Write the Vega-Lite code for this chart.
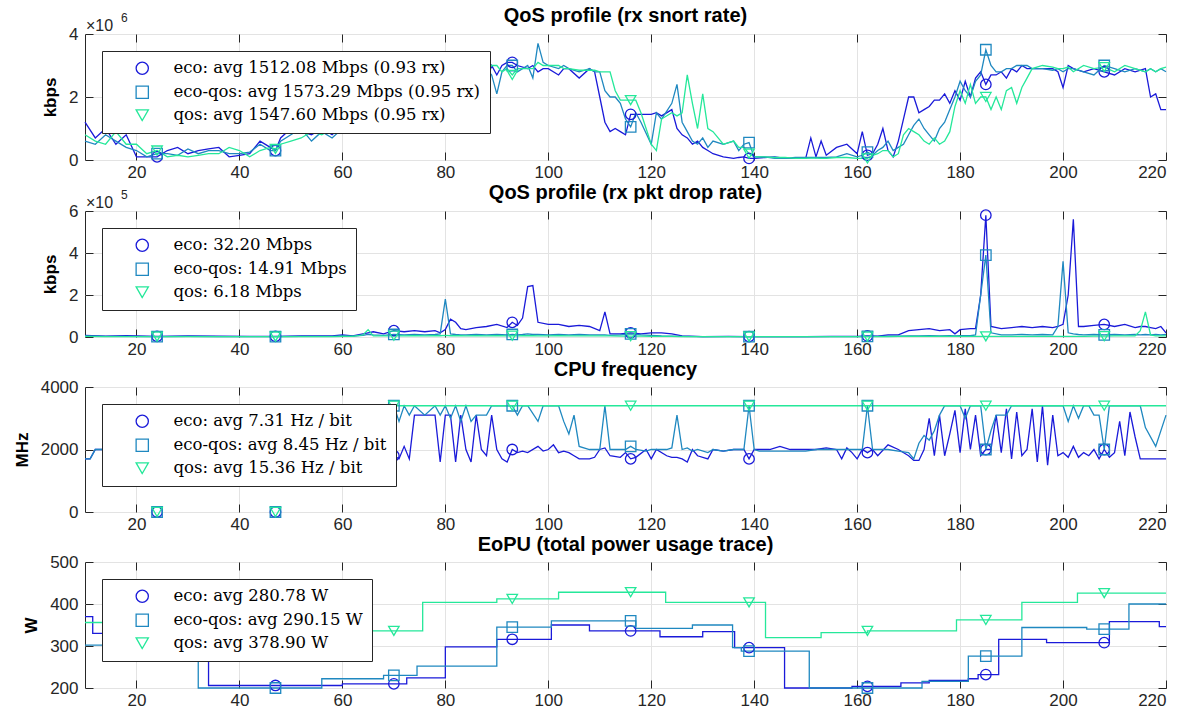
{
  "$schema": "https://vega.github.io/schema/vega-lite/v6.json",
  "background": "white",
  "padding": {"left": 12, "top": 5, "right": 5, "bottom": 2},
  "spacing": 1,
  "config": {
    "view": {"stroke": "#262626", "strokeWidth": 1},
    "font": "Liberation Sans",
    "axis": {
      "labelFont": "Liberation Sans", "labelFontSize": 17, "labelColor": "#262626",
      "domain": false, "grid": true, "gridColor": "#e3e3e3", "gridWidth": 1,
      "ticks": true, "tickColor": "#262626", "tickSize": -8, "tickWidth": 1,
      "titleFont": "Liberation Sans", "titleFontSize": 17, "titleFontWeight": "bold", "titleColor": "#000000", "titlePadding": 9
    },
    "axisX": {"labelPadding": 12},
    "axisY": {"labelPadding": 15},
    "title": {"font": "Liberation Sans", "fontSize": 20, "fontWeight": "bold", "color": "#000000"},
    "legend": {
      "orient": "top-left", "offset": 17, "title": null,
      "strokeColor": "#262626", "fillColor": "white", "padding": 9, "rowPadding": 6,
      "symbolOffset": 23, "labelOffset": 23, "labelFont": "DejaVu Serif", "labelFontSize": 16.5,
      "labelColor": "#000000", "labelLimit": 500, "symbolSize": 150, "symbolStrokeWidth": 1.3
    }
  },
  "datasets": {
    "p1": [
      {"x":10,"a":1.2,"b":0.6,"c":0.8},{"x":12,"a":0.7,"b":0.5,"c":0.6},{"x":14,"a":1.0,"b":0.8,"c":0.5},{"x":16,"a":0.5,"b":0.6,"c":0.9},
      {"x":18,"a":0.8,"b":0.4,"c":0.5},{"x":20,"a":0.1,"b":0.3,"c":0.5},{"x":22,"a":0.1,"b":0.1,"c":0.2},{"x":24,"a":0.1,"b":0.2,"c":0.3},
      {"x":26,"a":0.3,"b":0.2,"c":0.1},{"x":28,"a":0.4,"b":0.15,"c":0.15},{"x":30,"a":0.2,"b":0.35,"c":0.1},{"x":32,"a":0.3,"b":0.2,"c":0.15},
      {"x":34,"a":0.35,"b":0.3,"c":0.2},{"x":36,"a":0.4,"b":0.3,"c":0.2},{"x":38,"a":0.1,"b":0.2,"c":0.4},{"x":40,"a":0.15,"b":0.2,"c":0.3},
      {"x":42,"a":0.2,"b":0.25,"c":0.1},{"x":44,"a":0.6,"b":0.5,"c":0.3},{"x":46,"a":0.4,"b":0.3,"c":0.4},{"x":47,"a":0.3,"b":0.3,"c":0.35},
      {"x":48,"a":0.7,"b":0.6,"c":0.5},{"x":50,"a":1.0,"b":0.8,"c":0.6},{"x":52,"a":0.9,"b":1.0,"c":0.7},{"x":54,"a":0.8,"b":0.6,"c":0.9},
      {"x":56,"a":1.0,"b":0.9,"c":0.8},{"x":58,"a":0.8,"b":0.7,"c":1.0},{"x":60,"a":1.1,"b":1.0,"c":0.9},{"x":62,"a":1.3,"b":1.2,"c":1.0},
      {"x":64,"a":1.6,"b":1.5,"c":1.3},{"x":66,"a":1.9,"b":1.8,"c":1.6},{"x":68,"a":2.1,"b":2.0,"c":1.9},{"x":70,"a":2.3,"b":2.2,"c":2.1},
      {"x":72,"a":2.5,"b":2.4,"c":2.3},{"x":74,"a":2.6,"b":2.6,"c":2.5},{"x":76,"a":2.8,"b":2.7,"c":2.6},{"x":78,"a":2.9,"b":2.8,"c":2.8},
      {"x":80,"a":2.9,"b":2.9,"c":2.9},{"x":82,"a":3.0,"b":2.9,"c":2.8},{"x":84,"a":2.9,"b":3.0,"c":3.0},{"x":86,"a":3.0,"b":2.8,"c":2.9},
      {"x":88,"a":2.5,"b":2.9,"c":2.8},{"x":89,"a":3.0,"b":2.7,"c":3.0},{"x":90,"a":2.7,"b":2.1,"c":3.0},{"x":91,"a":3.0,"b":2.8,"c":2.8},
      {"x":92,"a":3.1,"b":3.0,"c":2.9},{"x":93,"a":3.1,"b":3.0,"c":2.7},{"x":94,"a":3.0,"b":2.8,"c":2.9},{"x":96,"a":2.9,"b":3.0,"c":2.9},
      {"x":97,"a":3.0,"b":2.6,"c":2.9},{"x":98,"a":2.8,"b":3.7,"c":3.1},{"x":99,"a":2.9,"b":3.1,"c":3.0},{"x":100,"a":2.9,"b":3.0,"c":3.0},
      {"x":102,"a":2.7,"b":2.9,"c":3.0},{"x":103,"a":2.9,"b":3.0,"c":2.9},{"x":104,"a":2.9,"b":2.9,"c":2.9},{"x":106,"a":2.6,"b":2.8,"c":2.85},
      {"x":108,"a":2.9,"b":2.9,"c":2.85},{"x":109,"a":2.8,"b":2.8,"c":2.85},{"x":110,"a":2.0,"b":2.8,"c":2.8},{"x":111,"a":1.2,"b":2.2,"c":2.8},
      {"x":112,"a":0.9,"b":2.0,"c":2.8},{"x":113,"a":1.0,"b":2.0,"c":2.2},{"x":114,"a":0.9,"b":1.8,"c":1.9},{"x":115,"a":0.8,"b":1.3,"c":1.9},
      {"x":116,"a":1.45,"b":1.05,"c":1.9},{"x":117,"a":1.45,"b":1.5,"c":1.9},{"x":118,"a":1.45,"b":1.2,"c":1.5},{"x":120,"a":1.45,"b":0.5,"c":0.5},
      {"x":121,"a":1.5,"b":1.5,"c":0.3},{"x":122,"a":1.4,"b":1.3,"c":1.3},{"x":124,"a":1.6,"b":1.8,"c":1.5},{"x":125,"a":1.0,"b":2.4,"c":1.4},
      {"x":126,"a":0.8,"b":1.2,"c":1.5},{"x":127,"a":0.7,"b":0.9,"c":2.7},{"x":128,"a":0.5,"b":0.6,"c":1.8},{"x":129,"a":0.6,"b":0.5,"c":1.0},
      {"x":130,"a":0.4,"b":0.7,"c":2.1},{"x":131,"a":0.3,"b":0.4,"c":1.0},{"x":132,"a":0.2,"b":0.6,"c":0.9},{"x":134,"a":0.1,"b":0.5,"c":0.5},
      {"x":136,"a":0.05,"b":0.6,"c":0.6},{"x":137,"a":0.08,"b":0.3,"c":0.4},{"x":138,"a":0.1,"b":0.5,"c":0.4},{"x":139,"a":0.05,"b":0.55,"c":0.2},
      {"x":140,"a":0.05,"b":0.1,"c":0.1},{"x":142,"a":0.08,"b":0.1,"c":0.1},{"x":144,"a":0.1,"b":0.05,"c":0.08},{"x":146,"a":0.05,"b":0.05,"c":0.08},
      {"x":148,"a":0.05,"b":0.08,"c":0.05},{"x":150,"a":0.05,"b":0.08,"c":0.05},{"x":151,"a":0.7,"b":0.08,"c":0.06},{"x":152,"a":0.1,"b":0.08,"c":0.06},
      {"x":153,"a":0.6,"b":0.08,"c":0.05},{"x":154,"a":0.15,"b":0.08,"c":0.05},{"x":156,"a":0.4,"b":0.1,"c":0.08},{"x":158,"a":0.5,"b":0.2,"c":0.08},
      {"x":160,"a":0.2,"b":0.1,"c":0.05},{"x":161,"a":0.9,"b":0.15,"c":0.05},{"x":162,"a":0.15,"b":0.25,"c":0.05},{"x":163,"a":0.2,"b":0.15,"c":0.15},
      {"x":164,"a":0.5,"b":0.3,"c":0.2},{"x":165,"a":1.0,"b":0.4,"c":0.3},{"x":166,"a":0.3,"b":0.6,"c":0.3},{"x":167,"a":0.1,"b":0.3,"c":0.1},
      {"x":168,"a":0.6,"b":0.4,"c":0.2},{"x":169,"a":1.3,"b":0.5,"c":0.8},{"x":170,"a":2.0,"b":0.8,"c":1.0},{"x":171,"a":2.0,"b":1.1,"c":0.9},
      {"x":172,"a":1.5,"b":1.3,"c":0.8},{"x":173,"a":1.6,"b":1.0,"c":0.6},{"x":174,"a":1.7,"b":0.8,"c":0.5},{"x":175,"a":1.9,"b":0.6,"c":0.7},
      {"x":176,"a":1.9,"b":1.0,"c":0.5},{"x":177,"a":2.1,"b":1.2,"c":0.6},{"x":178,"a":1.8,"b":1.6,"c":0.9},{"x":179,"a":2.2,"b":2.0,"c":1.7},
      {"x":180,"a":1.9,"b":2.5,"c":2.2},{"x":181,"a":2.5,"b":2.2,"c":1.8},{"x":182,"a":2.0,"b":2.0,"c":2.4},{"x":183,"a":2.6,"b":2.5,"c":1.8},
      {"x":184,"a":2.8,"b":2.7,"c":2.0},{"x":185,"a":2.4,"b":3.5,"c":2.0},{"x":186,"a":2.7,"b":3.0,"c":1.6},{"x":187,"a":2.7,"b":2.8,"c":2.0},
      {"x":188,"a":2.8,"b":2.8,"c":1.6},{"x":189,"a":2.6,"b":2.9,"c":2.2},{"x":190,"a":2.9,"b":2.9,"c":2.3},{"x":191,"a":2.8,"b":3.0,"c":1.8},
      {"x":192,"a":3.0,"b":3.0,"c":2.3},{"x":193,"a":2.9,"b":3.0,"c":2.6},{"x":194,"a":2.9,"b":2.9,"c":2.9},{"x":196,"a":2.9,"b":2.9,"c":3.0},
      {"x":198,"a":2.9,"b":2.85,"c":2.95},{"x":199,"a":2.8,"b":2.9,"c":2.9},{"x":200,"a":2.3,"b":2.8,"c":2.9},{"x":201,"a":3.0,"b":2.9,"c":2.95},
      {"x":202,"a":2.9,"b":2.9,"c":2.8},{"x":204,"a":2.8,"b":2.8,"c":3.0},{"x":206,"a":2.9,"b":2.7,"c":2.9},{"x":208,"a":2.8,"b":3.0,"c":2.95},
      {"x":210,"a":2.7,"b":2.9,"c":2.8},{"x":212,"a":2.9,"b":2.8,"c":3.0},{"x":214,"a":2.8,"b":2.9,"c":2.9},{"x":216,"a":2.9,"b":2.8,"c":2.8},
      {"x":217,"a":2.0,"b":2.9,"c":2.9},{"x":218,"a":2.1,"b":2.8,"c":2.8},{"x":219,"a":1.6,"b":2.9,"c":2.9},{"x":220,"a":1.6,"b":2.8,"c":2.95}
    ],
    "p2": [
      {"x":10,"a":0.08,"b":0.05,"c":0.03},{"x":14,"a":0.04,"b":0.03,"c":0.02},{"x":18,"a":0.06,"b":0.03,"c":0.02},{"x":24,"a":0.03,"b":0.02,"c":0.02},
      {"x":30,"a":0.05,"b":0.03,"c":0.02},{"x":36,"a":0.04,"b":0.02,"c":0.02},{"x":42,"a":0.03,"b":0.02,"c":0.02},{"x":47,"a":0.03,"b":0.02,"c":0.02},
      {"x":52,"a":0.05,"b":0.03,"c":0.02},{"x":58,"a":0.05,"b":0.03,"c":0.02},{"x":60,"a":0.1,"b":0.05,"c":0.03},{"x":62,"a":0.05,"b":0.04,"c":0.03},
      {"x":64,"a":0.15,"b":0.08,"c":0.1},{"x":65,"a":0.2,"b":0.12,"c":0.35},{"x":66,"a":0.25,"b":0.1,"c":0.05},{"x":68,"a":0.15,"b":0.08,"c":0.05},
      {"x":70,"a":0.3,"b":0.12,"c":0.06},{"x":72,"a":0.25,"b":0.1,"c":0.05},{"x":74,"a":0.3,"b":0.12,"c":0.06},{"x":76,"a":0.25,"b":0.1,"c":0.05},
      {"x":78,"a":0.3,"b":0.12,"c":0.06},{"x":79,"a":0.2,"b":0.15,"c":0.06},{"x":80,"a":0.35,"b":1.8,"c":0.08},{"x":81,"a":0.85,"b":0.15,"c":0.06},
      {"x":82,"a":0.7,"b":0.12,"c":0.06},{"x":83,"a":0.4,"b":0.1,"c":0.06},{"x":84,"a":0.35,"b":0.1,"c":0.05},{"x":86,"a":0.45,"b":0.12,"c":0.06},
      {"x":88,"a":0.5,"b":0.1,"c":0.05},{"x":90,"a":0.6,"b":0.12,"c":0.06},{"x":92,"a":0.45,"b":0.1,"c":0.05},{"x":93,"a":0.7,"b":0.12,"c":0.06},
      {"x":94,"a":0.55,"b":0.1,"c":0.05},{"x":95,"a":0.9,"b":0.12,"c":0.06},{"x":96,"a":2.4,"b":0.15,"c":0.06},{"x":97,"a":2.45,"b":0.12,"c":0.06},
      {"x":98,"a":0.7,"b":0.12,"c":0.05},{"x":100,"a":0.6,"b":0.1,"c":0.05},{"x":102,"a":0.6,"b":0.12,"c":0.06},{"x":104,"a":0.5,"b":0.1,"c":0.05},
      {"x":106,"a":0.55,"b":0.12,"c":0.05},{"x":108,"a":0.5,"b":0.1,"c":0.05},{"x":110,"a":0.3,"b":0.1,"c":0.05},{"x":111,"a":1.2,"b":0.1,"c":0.05},
      {"x":112,"a":0.15,"b":0.08,"c":0.05},{"x":114,"a":0.15,"b":0.1,"c":0.04},{"x":116,"a":0.2,"b":0.15,"c":0.04},{"x":118,"a":0.15,"b":0.1,"c":0.04},
      {"x":120,"a":0.2,"b":0.08,"c":0.03},{"x":122,"a":0.2,"b":0.05,"c":0.03},{"x":124,"a":0.15,"b":0.04,"c":0.03},{"x":126,"a":0.05,"b":0.03,"c":0.02},
      {"x":130,"a":0.02,"b":0.02,"c":0.02},{"x":135,"a":0.03,"b":0.02,"c":0.02},{"x":139,"a":0.02,"b":0.02,"c":0.02},{"x":145,"a":0.02,"b":0.02,"c":0.02},
      {"x":150,"a":0.02,"b":0.02,"c":0.02},{"x":155,"a":0.03,"b":0.02,"c":0.02},{"x":160,"a":0.03,"b":0.02,"c":0.02},{"x":162,"a":0.05,"b":0.03,"c":0.02},
      {"x":164,"a":0.04,"b":0.03,"c":0.02},{"x":166,"a":0.1,"b":0.04,"c":0.02},{"x":168,"a":0.1,"b":0.04,"c":0.03},{"x":170,"a":0.3,"b":0.05,"c":0.03},
      {"x":172,"a":0.35,"b":0.05,"c":0.03},{"x":174,"a":0.4,"b":0.06,"c":0.03},{"x":176,"a":0.3,"b":0.05,"c":0.03},{"x":178,"a":0.35,"b":0.06,"c":0.03},
      {"x":179,"a":0.15,"b":0.05,"c":0.03},{"x":180,"a":0.35,"b":0.06,"c":0.03},{"x":182,"a":0.4,"b":0.06,"c":0.03},{"x":183,"a":0.4,"b":0.1,"c":0.03},
      {"x":184,"a":2.0,"b":2.0,"c":0.03},{"x":185,"a":5.8,"b":3.9,"c":0.03},{"x":186,"a":0.5,"b":0.2,"c":0.03},{"x":188,"a":0.4,"b":0.1,"c":0.03},
      {"x":190,"a":0.45,"b":0.1,"c":0.03},{"x":192,"a":0.5,"b":0.12,"c":0.03},{"x":194,"a":0.45,"b":0.1,"c":0.03},{"x":196,"a":0.5,"b":0.12,"c":0.03},
      {"x":198,"a":0.45,"b":0.1,"c":0.03},{"x":199,"a":0.5,"b":0.5,"c":0.03},{"x":200,"a":0.6,"b":3.6,"c":0.03},{"x":201,"a":2.0,"b":0.2,"c":0.03},
      {"x":202,"a":5.6,"b":0.15,"c":0.03},{"x":203,"a":0.5,"b":0.12,"c":0.03},{"x":204,"a":0.5,"b":0.1,"c":0.03},{"x":206,"a":0.55,"b":0.12,"c":0.04},
      {"x":208,"a":0.6,"b":0.1,"c":0.04},{"x":210,"a":0.5,"b":0.12,"c":0.05},{"x":212,"a":0.6,"b":0.1,"c":0.05},{"x":214,"a":0.45,"b":0.12,"c":0.05},
      {"x":215,"a":0.5,"b":0.1,"c":0.3},{"x":216,"a":0.5,"b":0.12,"c":1.2},{"x":217,"a":0.45,"b":0.1,"c":0.1},{"x":218,"a":0.4,"b":0.12,"c":0.05},
      {"x":219,"a":0.5,"b":0.1,"c":0.05},{"x":220,"a":0.2,"b":0.12,"c":0.05}
    ],
    "p3": [
      {"x":10,"a":1700,"b":1700,"c":null},{"x":11,"a":1700,"b":1700,"c":null},{"x":12,"a":2000,"b":2000,"c":null},{"x":14,"a":2000,"b":2000,"c":null},
      {"x":16,"a":null,"b":null,"c":null},{"x":24,"a":0,"b":0,"c":0},{"x":26,"a":null,"b":null,"c":null},{"x":47,"a":0,"b":0,"c":0},
      {"x":49,"a":null,"b":null,"c":null},
      {"x":61,"a":2000,"b":3400,"c":3400},{"x":62,"a":2000,"b":3400,"c":3400},{"x":64,"a":1800,"b":3100,"c":3400},{"x":66,"a":2000,"b":3400,"c":3400},
      {"x":68,"a":1700,"b":2900,"c":3400},{"x":70,"a":1800,"b":3400,"c":3400},{"x":71,"a":1700,"b":2900,"c":3400},{"x":72,"a":2100,"b":3400,"c":3400},
      {"x":73,"a":1700,"b":3100,"c":3400},{"x":74,"a":3100,"b":3400,"c":3400},{"x":76,"a":3100,"b":3100,"c":3400},{"x":78,"a":3100,"b":3400,"c":3400},
      {"x":79,"a":1600,"b":3100,"c":3400},{"x":80,"a":3100,"b":3400,"c":3400},{"x":81,"a":3100,"b":3000,"c":3400},{"x":82,"a":1600,"b":3400,"c":3400},
      {"x":83,"a":3100,"b":2900,"c":3400},{"x":84,"a":2000,"b":3400,"c":3400},{"x":85,"a":1600,"b":2900,"c":3400},{"x":86,"a":3100,"b":3100,"c":3400},
      {"x":87,"a":2000,"b":3100,"c":3400},{"x":88,"a":1800,"b":3100,"c":3400},{"x":89,"a":3100,"b":3400,"c":3400},{"x":90,"a":2000,"b":3400,"c":3400},
      {"x":91,"a":1700,"b":3400,"c":3400},{"x":92,"a":1600,"b":3400,"c":3400},{"x":93,"a":2000,"b":3400,"c":3400},{"x":94,"a":1900,"b":3100,"c":3400},
      {"x":95,"a":1950,"b":3400,"c":3400},{"x":96,"a":1900,"b":3400,"c":3400},{"x":98,"a":2100,"b":2900,"c":3400},{"x":99,"a":1950,"b":3400,"c":3400},
      {"x":100,"a":2000,"b":3400,"c":3400},{"x":101,"a":2150,"b":3400,"c":3400},{"x":102,"a":1900,"b":3400,"c":3400},{"x":103,"a":1950,"b":2900,"c":3400},
      {"x":104,"a":1900,"b":2500,"c":3400},{"x":105,"a":1800,"b":3100,"c":3400},{"x":106,"a":1700,"b":2100,"c":3400},{"x":108,"a":1700,"b":2000,"c":3400},
      {"x":109,"a":1750,"b":2000,"c":3400},{"x":110,"a":2000,"b":2000,"c":3400},{"x":111,"a":2050,"b":3400,"c":3400},{"x":112,"a":1800,"b":2000,"c":3400},
      {"x":114,"a":1750,"b":2000,"c":3400},{"x":115,"a":1900,"b":2000,"c":3400},{"x":116,"a":1700,"b":2100,"c":3400},{"x":117,"a":1750,"b":2000,"c":3400},
      {"x":119,"a":2000,"b":1950,"c":3400},{"x":120,"a":1700,"b":2000,"c":3400},{"x":121,"a":2000,"b":2000,"c":3400},{"x":123,"a":1800,"b":2000,"c":3400},
      {"x":124,"a":1750,"b":2050,"c":3400},{"x":125,"a":1750,"b":3100,"c":3400},{"x":126,"a":1700,"b":2000,"c":3400},{"x":127,"a":1600,"b":2050,"c":3400},
      {"x":128,"a":2000,"b":1950,"c":3400},{"x":129,"a":1800,"b":2000,"c":3400},{"x":131,"a":1700,"b":1900,"c":3400},{"x":132,"a":2000,"b":2000,"c":3400},
      {"x":134,"a":1950,"b":1950,"c":3400},{"x":136,"a":2000,"b":2000,"c":3400},{"x":138,"a":2000,"b":2000,"c":3400},{"x":139,"a":1700,"b":3400,"c":3400},
      {"x":140,"a":2000,"b":2000,"c":3400},{"x":141,"a":2000,"b":1950,"c":3400},{"x":143,"a":2000,"b":1950,"c":3400},{"x":145,"a":2100,"b":1950,"c":3400},
      {"x":147,"a":2000,"b":1950,"c":3400},{"x":150,"a":2000,"b":1950,"c":3400},{"x":152,"a":2000,"b":2000,"c":3400},{"x":154,"a":2050,"b":2000,"c":3400},
      {"x":156,"a":2000,"b":2000,"c":3400},{"x":157,"a":1700,"b":2000,"c":3400},{"x":158,"a":2050,"b":2000,"c":3400},{"x":159,"a":1900,"b":2000,"c":3400},
      {"x":160,"a":1700,"b":2000,"c":3400},{"x":161,"a":2000,"b":2000,"c":3400},{"x":162,"a":1900,"b":3400,"c":3400},{"x":163,"a":2000,"b":2000,"c":3400},
      {"x":164,"a":1800,"b":2000,"c":3400},{"x":166,"a":2150,"b":2000,"c":3400},{"x":168,"a":2000,"b":1950,"c":3400},{"x":170,"a":1800,"b":1900,"c":3400},
      {"x":171,"a":1650,"b":1700,"c":3400},{"x":172,"a":1650,"b":2200,"c":3400},{"x":173,"a":2000,"b":2450,"c":3400},{"x":174,"a":3000,"b":2300,"c":3400},
      {"x":175,"a":1800,"b":2600,"c":3400},{"x":176,"a":3100,"b":3100,"c":3400},{"x":177,"a":1800,"b":3400,"c":3400},{"x":178,"a":2500,"b":3400,"c":3400},
      {"x":179,"a":3250,"b":3400,"c":3400},{"x":180,"a":1900,"b":3400,"c":3400},{"x":181,"a":3300,"b":3000,"c":3400},{"x":182,"a":2000,"b":3400,"c":3400},
      {"x":183,"a":3100,"b":3400,"c":3400},{"x":184,"a":1800,"b":3400,"c":3400},{"x":185,"a":2000,"b":2000,"c":3400},{"x":186,"a":2000,"b":2600,"c":3400},
      {"x":187,"a":3100,"b":3100,"c":3400},{"x":188,"a":1900,"b":3100,"c":3400},{"x":189,"a":3300,"b":3100,"c":3400},{"x":190,"a":1700,"b":3400,"c":3400},
      {"x":191,"a":3200,"b":3400,"c":3400},{"x":192,"a":1800,"b":3400,"c":3400},{"x":193,"a":2000,"b":3400,"c":3400},{"x":194,"a":3300,"b":3400,"c":3400},
      {"x":195,"a":1600,"b":3400,"c":3400},{"x":196,"a":3400,"b":3400,"c":3400},{"x":197,"a":1500,"b":3400,"c":3400},{"x":198,"a":3100,"b":3400,"c":3400},
      {"x":199,"a":1800,"b":3400,"c":3400},{"x":200,"a":1900,"b":3400,"c":3400},{"x":201,"a":1750,"b":2900,"c":3400},{"x":202,"a":2100,"b":3400,"c":3400},
      {"x":203,"a":1750,"b":3000,"c":3400},{"x":204,"a":1900,"b":3400,"c":3400},{"x":205,"a":1800,"b":3400,"c":3400},{"x":206,"a":2000,"b":3100,"c":3400},
      {"x":207,"a":1700,"b":3100,"c":3400},{"x":208,"a":2000,"b":2000,"c":3400},{"x":209,"a":1750,"b":3400,"c":3400},{"x":210,"a":1900,"b":3400,"c":3400},
      {"x":211,"a":2900,"b":3400,"c":3400},{"x":212,"a":1800,"b":3400,"c":3400},{"x":213,"a":3200,"b":3400,"c":3400},{"x":214,"a":2400,"b":3400,"c":3400},
      {"x":215,"a":1700,"b":3400,"c":3400},{"x":216,"a":1700,"b":2700,"c":3400},{"x":218,"a":1700,"b":2100,"c":3400},{"x":220,"a":1700,"b":3100,"c":3400}
    ],
    "p4": [
      {"x":10,"a":370,"b":302,"c":356},{"x":11.5,"a":330,"b":302,"c":356},{"x":20,"a":280,"b":302,"c":356},{"x":24,"a":280,"b":302,"c":356},
      {"x":32,"a":280,"b":200,"c":356},{"x":34,"a":206,"b":200,"c":356},{"x":40,"a":206,"b":200,"c":340},{"x":47,"a":206,"b":200,"c":340},
      {"x":56,"a":206,"b":222,"c":340},{"x":60,"a":210,"b":222,"c":336},{"x":68,"a":210,"b":230,"c":336},{"x":70,"a":210,"b":230,"c":336},
      {"x":72.5,"a":224,"b":230,"c":336},{"x":74.5,"a":224,"b":252,"c":336},{"x":75.6,"a":224,"b":252,"c":404},{"x":80,"a":298,"b":252,"c":404},
      {"x":90,"a":316,"b":345,"c":412},{"x":93,"a":316,"b":345,"c":412},{"x":100.6,"a":350,"b":360,"c":412},{"x":102,"a":350,"b":360,"c":428},
      {"x":108,"a":336,"b":360,"c":428},{"x":116,"a":336,"b":360,"c":428},{"x":117,"a":336,"b":342,"c":428},{"x":121.7,"a":322,"b":342,"c":428},
      {"x":122.8,"a":322,"b":342,"c":404},{"x":128,"a":322,"b":350,"c":404},{"x":130,"a":334,"b":350,"c":404},{"x":135.8,"a":334,"b":296,"c":404},
      {"x":136.2,"a":296,"b":296,"c":404},{"x":137.5,"a":296,"b":288,"c":404},{"x":139,"a":296,"b":288,"c":404},{"x":142.2,"a":296,"b":288,"c":320},
      {"x":145.9,"a":200,"b":288,"c":320},{"x":150.7,"a":200,"b":200,"c":320},{"x":153,"a":200,"b":200,"c":332},{"x":159,"a":204,"b":200,"c":332},
      {"x":162,"a":204,"b":200,"c":336},{"x":168.5,"a":212,"b":200,"c":336},{"x":172.6,"a":212,"b":216,"c":336},{"x":174,"a":218,"b":216,"c":336},
      {"x":179.3,"a":218,"b":216,"c":362},{"x":181.6,"a":222,"b":276,"c":362},{"x":183.5,"a":232,"b":276,"c":362},{"x":185,"a":232,"b":276,"c":362},
      {"x":187.5,"a":316,"b":276,"c":362},{"x":192,"a":316,"b":344,"c":404},{"x":196.8,"a":308,"b":344,"c":404},{"x":202.8,"a":308,"b":344,"c":426},
      {"x":204.6,"a":308,"b":340,"c":426},{"x":208,"a":308,"b":340,"c":426},{"x":209,"a":358,"b":340,"c":426},{"x":212.8,"a":358,"b":400,"c":426},
      {"x":218.7,"a":346,"b":400,"c":426},{"x":220,"a":346,"b":400,"c":426}
    ]
  },
  "vconcat": [
    {
      "title": {"text": "QoS profile (rx snort rate)", "offset": -14},
      "width": 1081, "height": 126,
      "resolve": {"axis": {"x": "independent", "y": "independent"}},
      "layer": [
        {
          "data": {"name": "p1"},
          "transform": [{"fold": ["a", "b", "c"], "as": ["s", "v"]}],
          "mark": {"type": "line", "strokeWidth": 1.3},
          "encoding": {
            "x": {"field": "x", "type": "quantitative", "scale": {"domain": [10, 220], "nice": false}, "axis": {"values": [20, 40, 60, 80, 100, 120, 140, 160, 180, 200, 220], "title": null}},
            "y": {"field": "v", "type": "quantitative", "scale": {"domain": [0, 4], "nice": false}, "axis": {"values": [0, 2, 4], "title": "kbps"}},
            "color": {"field": "s", "type": "nominal", "scale": {"domain": ["a", "b", "c"], "range": ["#1a1ad9", "#1f88c0", "#25e89a"]},
              "legend": {"labelExpr": "datum.label == 'a' ? 'eco: avg 1512.08 Mbps (0.93 rx)' : datum.label == 'b' ? 'eco-qos: avg 1573.29 Mbps (0.95 rx)' : 'qos: avg 1547.60 Mbps (0.95 rx)'"}}
          }
        },
        {
          "data": {"name": "p1"},
          "transform": [{"fold": ["a", "b", "c"], "as": ["s", "v"]}, {"filter": {"field": "x", "oneOf": [24, 47, 70, 93, 116, 139, 162, 185, 208]}}],
          "mark": {"type": "point", "filled": false, "size": 110, "strokeWidth": 1.3, "opacity": 1},
          "encoding": {
            "x": {"field": "x", "type": "quantitative", "axis": null},
            "y": {"field": "v", "type": "quantitative", "axis": null},
            "color": {"field": "s", "type": "nominal", "scale": {"domain": ["a", "b", "c"], "range": ["#1a1ad9", "#1f88c0", "#25e89a"]},
              "legend": {"labelExpr": "datum.label == 'a' ? 'eco: avg 1512.08 Mbps (0.93 rx)' : datum.label == 'b' ? 'eco-qos: avg 1573.29 Mbps (0.95 rx)' : 'qos: avg 1547.60 Mbps (0.95 rx)'"}},
            "shape": {"field": "s", "type": "nominal", "scale": {"domain": ["a", "b", "c"], "range": ["circle", "square", "triangle-down"]},
              "legend": {"labelExpr": "datum.label == 'a' ? 'eco: avg 1512.08 Mbps (0.93 rx)' : datum.label == 'b' ? 'eco-qos: avg 1573.29 Mbps (0.95 rx)' : 'qos: avg 1547.60 Mbps (0.95 rx)'"}}
          }
        },
        {
          "data": {"name": "p1"},
          "mark": {"type": "point", "opacity": 0},
          "encoding": {
            "x": {"field": "x", "type": "quantitative", "axis": {"orient": "top", "labels": false, "grid": false, "title": null, "values": [20, 40, 60, 80, 100, 120, 140, 160, 180, 200, 220]}},
            "y": {"field": "a", "type": "quantitative", "axis": {"orient": "right", "labels": false, "grid": false, "title": null, "values": [0, 2, 4]}}
          }
        },
        {
          "data": {"values": [{"t": "×10"}]},
          "mark": {"type": "text", "align": "left", "baseline": "alphabetic", "dx": 1, "dy": -3, "fontSize": 16, "font": "Liberation Sans", "color": "#262626"},
          "encoding": {"x": {"datum": 10, "axis": null}, "y": {"datum": 4, "axis": null}, "text": {"field": "t"}}
        },
        {
          "data": {"values": [{"t": "6"}]},
          "mark": {"type": "text", "align": "left", "baseline": "alphabetic", "dx": 36, "dy": -12, "fontSize": 12, "font": "Liberation Sans", "color": "#262626"},
          "encoding": {"x": {"datum": 10, "axis": null}, "y": {"datum": 4, "axis": null}, "text": {"field": "t"}}
        }
      ]
    },
    {
      "title": {"text": "QoS profile (rx pkt drop rate)", "offset": -14},
      "width": 1081, "height": 126,
      "resolve": {"axis": {"x": "independent", "y": "independent"}},
      "layer": [
        {
          "data": {"name": "p2"},
          "transform": [{"fold": ["a", "b", "c"], "as": ["s", "v"]}],
          "mark": {"type": "line", "strokeWidth": 1.3},
          "encoding": {
            "x": {"field": "x", "type": "quantitative", "scale": {"domain": [10, 220], "nice": false}, "axis": {"values": [20, 40, 60, 80, 100, 120, 140, 160, 180, 200, 220], "title": null}},
            "y": {"field": "v", "type": "quantitative", "scale": {"domain": [0, 6], "nice": false}, "axis": {"values": [0, 2, 4, 6], "title": "kbps"}},
            "color": {"field": "s", "type": "nominal", "scale": {"domain": ["a", "b", "c"], "range": ["#1a1ad9", "#1f88c0", "#25e89a"]},
              "legend": {"labelExpr": "datum.label == 'a' ? 'eco: 32.20 Mbps' : datum.label == 'b' ? 'eco-qos: 14.91 Mbps' : 'qos: 6.18 Mbps'"}}
          }
        },
        {
          "data": {"name": "p2"},
          "transform": [{"fold": ["a", "b", "c"], "as": ["s", "v"]}, {"filter": {"field": "x", "oneOf": [24, 47, 70, 93, 116, 139, 162, 185, 208]}}],
          "mark": {"type": "point", "filled": false, "size": 110, "strokeWidth": 1.3, "opacity": 1},
          "encoding": {
            "x": {"field": "x", "type": "quantitative", "axis": null},
            "y": {"field": "v", "type": "quantitative", "axis": null},
            "color": {"field": "s", "type": "nominal", "scale": {"domain": ["a", "b", "c"], "range": ["#1a1ad9", "#1f88c0", "#25e89a"]},
              "legend": {"labelExpr": "datum.label == 'a' ? 'eco: 32.20 Mbps' : datum.label == 'b' ? 'eco-qos: 14.91 Mbps' : 'qos: 6.18 Mbps'"}},
            "shape": {"field": "s", "type": "nominal", "scale": {"domain": ["a", "b", "c"], "range": ["circle", "square", "triangle-down"]},
              "legend": {"labelExpr": "datum.label == 'a' ? 'eco: 32.20 Mbps' : datum.label == 'b' ? 'eco-qos: 14.91 Mbps' : 'qos: 6.18 Mbps'"}}
          }
        },
        {
          "data": {"name": "p2"},
          "mark": {"type": "point", "opacity": 0},
          "encoding": {
            "x": {"field": "x", "type": "quantitative", "axis": {"orient": "top", "labels": false, "grid": false, "title": null, "values": [20, 40, 60, 80, 100, 120, 140, 160, 180, 200, 220]}},
            "y": {"field": "a", "type": "quantitative", "axis": {"orient": "right", "labels": false, "grid": false, "title": null, "values": [0, 2, 4, 6]}}
          }
        },
        {
          "data": {"values": [{"t": "×10"}]},
          "mark": {"type": "text", "align": "left", "baseline": "alphabetic", "dx": 1, "dy": -3, "fontSize": 16, "font": "Liberation Sans", "color": "#262626"},
          "encoding": {"x": {"datum": 10, "axis": null}, "y": {"datum": 6, "axis": null}, "text": {"field": "t"}}
        },
        {
          "data": {"values": [{"t": "5"}]},
          "mark": {"type": "text", "align": "left", "baseline": "alphabetic", "dx": 36, "dy": -12, "fontSize": 12, "font": "Liberation Sans", "color": "#262626"},
          "encoding": {"x": {"datum": 10, "axis": null}, "y": {"datum": 6, "axis": null}, "text": {"field": "t"}}
        }
      ]
    },
    {
      "title": {"text": "CPU frequency", "offset": -2},
      "width": 1081, "height": 125,
      "resolve": {"axis": {"x": "independent", "y": "independent"}},
      "layer": [
        {
          "data": {"name": "p3"},
          "transform": [{"fold": ["a", "b", "c"], "as": ["s", "v"]}],
          "mark": {"type": "line", "strokeWidth": 1.3, "invalid": "break-paths-show-domains"},
          "encoding": {
            "x": {"field": "x", "type": "quantitative", "scale": {"domain": [10, 220], "nice": false}, "axis": {"values": [20, 40, 60, 80, 100, 120, 140, 160, 180, 200, 220], "title": null}},
            "y": {"field": "v", "type": "quantitative", "scale": {"domain": [0, 4000], "nice": false}, "axis": {"values": [0, 2000, 4000], "title": "MHz", "format": "d"}},
            "color": {"field": "s", "type": "nominal", "scale": {"domain": ["a", "b", "c"], "range": ["#1a1ad9", "#1f88c0", "#25e89a"]},
              "legend": {"labelExpr": "datum.label == 'a' ? 'eco: avg 7.31 Hz / bit' : datum.label == 'b' ? 'eco-qos: avg 8.45 Hz / bit' : 'qos: avg 15.36 Hz / bit'"}}
          }
        },
        {
          "data": {"name": "p3"},
          "transform": [{"fold": ["a", "b", "c"], "as": ["s", "v"]}, {"filter": {"field": "x", "oneOf": [24, 47, 70, 93, 116, 139, 162, 185, 208]}}],
          "mark": {"type": "point", "filled": false, "size": 110, "strokeWidth": 1.3, "opacity": 1},
          "encoding": {
            "x": {"field": "x", "type": "quantitative", "axis": null},
            "y": {"field": "v", "type": "quantitative", "axis": null},
            "color": {"field": "s", "type": "nominal", "scale": {"domain": ["a", "b", "c"], "range": ["#1a1ad9", "#1f88c0", "#25e89a"]},
              "legend": {"labelExpr": "datum.label == 'a' ? 'eco: avg 7.31 Hz / bit' : datum.label == 'b' ? 'eco-qos: avg 8.45 Hz / bit' : 'qos: avg 15.36 Hz / bit'"}},
            "shape": {"field": "s", "type": "nominal", "scale": {"domain": ["a", "b", "c"], "range": ["circle", "square", "triangle-down"]},
              "legend": {"labelExpr": "datum.label == 'a' ? 'eco: avg 7.31 Hz / bit' : datum.label == 'b' ? 'eco-qos: avg 8.45 Hz / bit' : 'qos: avg 15.36 Hz / bit'"}}
          }
        },
        {
          "data": {"name": "p3"},
          "mark": {"type": "point", "opacity": 0},
          "encoding": {
            "x": {"field": "x", "type": "quantitative", "axis": {"orient": "top", "labels": false, "grid": false, "title": null, "values": [20, 40, 60, 80, 100, 120, 140, 160, 180, 200, 220]}},
            "y": {"field": "a", "type": "quantitative", "axis": {"orient": "right", "labels": false, "grid": false, "title": null, "values": [0, 2000, 4000]}}
          }
        }
      ]
    },
    {
      "title": {"text": "EoPU (total power usage trace)", "offset": -2},
      "width": 1081, "height": 126,
      "resolve": {"axis": {"x": "independent", "y": "independent"}},
      "layer": [
        {
          "data": {"name": "p4"},
          "transform": [{"fold": ["a", "b", "c"], "as": ["s", "v"]}],
          "mark": {"type": "line", "strokeWidth": 1.3, "interpolate": "step-after"},
          "encoding": {
            "x": {"field": "x", "type": "quantitative", "scale": {"domain": [10, 220], "nice": false}, "axis": {"values": [20, 40, 60, 80, 100, 120, 140, 160, 180, 200, 220], "title": null}},
            "y": {"field": "v", "type": "quantitative", "scale": {"domain": [200, 500], "nice": false, "zero": false}, "axis": {"values": [200, 300, 400, 500], "title": "W"}},
            "color": {"field": "s", "type": "nominal", "scale": {"domain": ["a", "b", "c"], "range": ["#1a1ad9", "#1f88c0", "#25e89a"]},
              "legend": {"labelExpr": "datum.label == 'a' ? 'eco: avg 280.78 W' : datum.label == 'b' ? 'eco-qos: avg 290.15 W' : 'qos: avg 378.90 W'"}}
          }
        },
        {
          "data": {"name": "p4"},
          "transform": [{"fold": ["a", "b", "c"], "as": ["s", "v"]}, {"filter": {"field": "x", "oneOf": [24, 47, 70, 93, 116, 139, 162, 185, 208]}}],
          "mark": {"type": "point", "filled": false, "size": 110, "strokeWidth": 1.3, "opacity": 1},
          "encoding": {
            "x": {"field": "x", "type": "quantitative", "axis": null},
            "y": {"field": "v", "type": "quantitative", "axis": null},
            "color": {"field": "s", "type": "nominal", "scale": {"domain": ["a", "b", "c"], "range": ["#1a1ad9", "#1f88c0", "#25e89a"]},
              "legend": {"labelExpr": "datum.label == 'a' ? 'eco: avg 280.78 W' : datum.label == 'b' ? 'eco-qos: avg 290.15 W' : 'qos: avg 378.90 W'"}},
            "shape": {"field": "s", "type": "nominal", "scale": {"domain": ["a", "b", "c"], "range": ["circle", "square", "triangle-down"]},
              "legend": {"labelExpr": "datum.label == 'a' ? 'eco: avg 280.78 W' : datum.label == 'b' ? 'eco-qos: avg 290.15 W' : 'qos: avg 378.90 W'"}}
          }
        },
        {
          "data": {"name": "p4"},
          "mark": {"type": "point", "opacity": 0},
          "encoding": {
            "x": {"field": "x", "type": "quantitative", "axis": {"orient": "top", "labels": false, "grid": false, "title": null, "values": [20, 40, 60, 80, 100, 120, 140, 160, 180, 200, 220]}},
            "y": {"field": "a", "type": "quantitative", "axis": {"orient": "right", "labels": false, "grid": false, "title": null, "values": [200, 300, 400, 500]}}
          }
        }
      ]
    }
  ],
  "resolve": {"scale": {"color": "independent", "shape": "independent"}, "legend": {"color": "independent", "shape": "independent"}}
}
